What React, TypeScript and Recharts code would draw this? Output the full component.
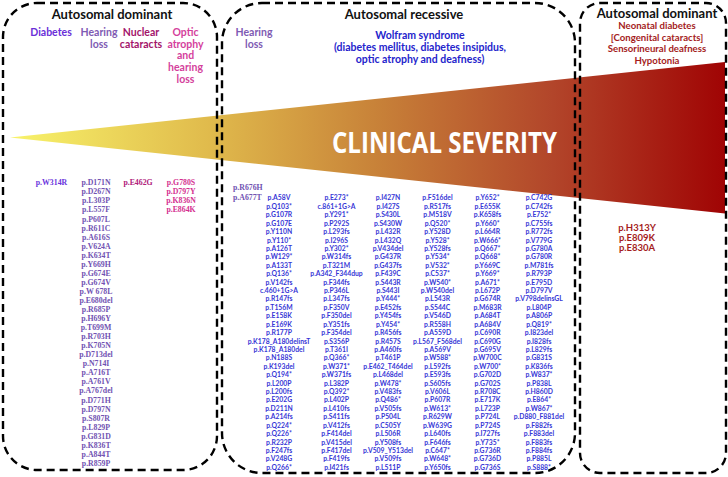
import React from 'react';
import { ComposedChart, XAxis, YAxis, Area, Scatter, ReferenceArea } from 'recharts';

const WIDTH = 728;
const HEIGHT = 477;

// ---------- texts / data ----------
const inheritanceHeaders = ['Autosomal dominant', 'Autosomal recessive', 'Autosomal dominant'];
const adPhenotypes = [['Diabetes'], ['Hearing', 'loss'], ['Nuclear', 'cataracts'], ['Optic', 'atrophy', 'and', 'hearing', 'loss']];
const arHearingPhenotype = ['Hearing', 'loss'];
const wolframLines = ['Wolfram syndrome', '(diabetes mellitus, diabetes insipidus,', 'optic atrophy and deafness)'];
const neonatalPhenotypes = ['Neonatal diabetes', '[Congenital cataracts]', 'Sensorineural deafness', 'Hypotonia'];
const severityLabel = 'CLINICAL SEVERITY';

const adDiabetesVariants = ['p.W314R'];
const adHearingVariants = [
  'p.D171N', 'p.D267N', 'p.L303P', 'p.L557F', 'p.P607L', 'p.R611C', 'p.A616S', 'p.V624A', 'p.K634T', 'p.Y669H',
  'p.G674E', 'p.G674V', 'p.W 678L', 'p.E680del', 'p.R685P', 'p.H696Y', 'p.T699M', 'p.R703H', 'p.K705N', 'p.D713del',
  'p.N714I', 'p.A716T', 'p.A761V', 'p.A767del', 'p.D771H', 'p.D797N', 'p.S807R', 'p.L829P', 'p.G831D', 'p.K836T',
  'p.A844T', 'p.R859P',
];
const adCataractVariants = ['p.E462G'];
const adOpticHearingVariants = ['p.G780S', 'p.D797Y', 'p.K836N', 'p.E864K'];
const arHearingVariants = ['p.R676H', 'p.A677T'];

const wolframCol1 = [
  'p.A58V', 'p.Q103*', 'p.G107R', 'p.G107E', 'p.Y110N', 'p.Y110*', 'p.A126T', 'p.W129*', 'p.A133T', 'p.Q136*',
  'p.V142fs', 'c.460+1G>A', 'p.R147fs', 'p.T156M', 'p.E158K', 'p.E169K', 'p.R177P', 'p.K178_A180delinsT',
  'p.K178_A180del', 'p.N188S', 'p.K193del', 'p.Q194*', 'p.L200P', 'p.L200fs', 'p.E202G', 'p.D211N', 'p.A214fs',
  'p.Q224*', 'p.Q226*', 'p.R232P', 'p.F247fs', 'p.V248G', 'p.Q266*',
];
const wolframCol2 = [
  'p.E273*', 'c.861+1G>A', 'p.Y291*', 'p.P292S', 'p.L293fs', 'p.I296S', 'p.Y302*', 'p.W314fs', 'p.T321M',
  'p.A342_F344dup', 'p.F344fs', 'p.P346L', 'p.L347fs', 'p.F350V', 'p.F350del', 'p.Y351fs', 'p.F354del', 'p.S356P',
  'p.T361I', 'p.Q366*', 'p.W371*', 'p.W371fs', 'p.L382P', 'p.Q392*', 'p.L402P', 'p.L410fs', 'p.S411fs', 'p.V412fs',
  'p.F414del', 'p.V415del', 'p.F417del', 'p.F419fs', 'p.I421fs',
];
const wolframCol3 = [
  'p.I427N', 'p.I427S', 'p.S430L', 'p.S430W', 'p.L432R', 'p.L432Q', 'p.V434del', 'p.G437R', 'p.G437fs', 'p.F439C',
  'p.S443R', 'p.S443I', 'p.Y444*', 'p.E452fs', 'p.Y454fs', 'p.Y454*', 'p.R456fs', 'p.R457S', 'p.A460fs', 'p.T461P',
  'p.E462_T464del', 'p.L468del', 'p.W478*', 'p.V483fs', 'p.Q486*', 'p.V505fs', 'p.P504L', 'p.C505Y', 'p.L506R',
  'p.Y508fs', 'p.V509_Y513del', 'p.V509fs', 'p.L511P',
];
const wolframCol4 = [
  'p.F516del', 'p.R517fs', 'p.M518V', 'p.Q520*', 'p.Y528D', 'p.Y528*', 'p.Y528fs', 'p.Y534*', 'p.V532*', 'p.C537*',
  'p.W540*', 'p.W540del', 'p.L543R', 'p.S544C', 'p.V546D', 'p.R558H', 'p.A559D', 'p.L567_F568del', 'p.A569V',
  'p.W588*', 'p.L592fs', 'p.E593fs', 'p.S605fs', 'p.V606L', 'p.P607R', 'p.W613*', 'p.R629W', 'p.W639G', 'p.L640fs',
  'p.F646fs', 'p.C647*', 'p.W648*', 'p.Y650fs',
];
const wolframCol5 = [
  'p.Y652*', 'p.E655K', 'p.K658fs', 'p.Y660*', 'p.L664R', 'p.W666*', 'p.Q667*', 'p.Q668*', 'p.Y669C', 'p.Y669*',
  'p.A671*', 'p.L672P', 'p.G674R', 'p.M683R', 'p.A684T', 'p.A684V', 'p.C690R', 'p.C690G', 'p.G695V', 'p.W700C',
  'p.W700*', 'p.G702D', 'p.G702S', 'p.R708C', 'p.E717K', 'p.L723P', 'p.P724L', 'p.P724S', 'p.I727fs', 'p.Y735*',
  'p.G736R', 'p.G736D', 'p.G736S',
];
const wolframCol6 = [
  'p.C742G', 'p.C742fs', 'p.E752*', 'p.C755fs', 'p.R772fs', 'p.V779G', 'p.G780A', 'p.G780R', 'p.M781fs', 'p.R793P',
  'p.E795D', 'p.D797V', 'p.V798delinsGL', 'p.L804P', 'p.A806P', 'p.Q819*', 'p.I823del', 'p.I828fs', 'p.L829fs',
  'p.G831S', 'p.K836fs', 'p.W837*', 'p.P838L', 'p.H860D', 'p.E864*', 'p.W867*', 'p.D880_F881del', 'p.F882fs',
  'p.F883del', 'p.F883fs', 'p.F884fs', 'p.P885L', 'p.S888*',
];
const neonatalVariants = ['p.H313Y', 'p.E809K', 'p.E830A'];

// severity rises from none (left) to full (right)
const severityLevels = [0, 1];

// ---------- layout ----------
type Pt = { x: number; y: number; label: string; len?: number };
const col = (labels: string[], x: number, y0: number, dy: number): Pt[] =>
  labels.map((label, i) => ({ x, y: y0 + i * dy, label }));

const WEDGE_X0 = 10;
const WEDGE_X1 = 725;
const WEDGE_MID = 137.5;
const wedgeData = severityLevels.map((lv) => ({
  x: WEDGE_X0 + lv * (WEDGE_X1 - WEDGE_X0),
  band: [WEDGE_MID - lv * 75.5, WEDGE_MID + lv * 76],
}));

const headerPts: Pt[] = [
  { x: 112, y: 18.5, label: inheritanceHeaders[0] },
  { x: 404, y: 18.5, label: inheritanceHeaders[1] },
  { x: 657, y: 17.5, label: inheritanceHeaders[2] },
];

const PH_Y = 36;
const PH_DY = 11.7;
const diabPheno = col(adPhenotypes[0], 51, PH_Y, PH_DY);
const hearPheno = [...col(adPhenotypes[1], 99, PH_Y, PH_DY), ...col(arHearingPhenotype, 254, PH_Y, PH_DY)];
const catPheno = col(adPhenotypes[2], 141, PH_Y, PH_DY);
const optPheno = col(adPhenotypes[3], 185.5, PH_Y, PH_DY);
const wolfPheno = col(wolframLines, 420, 38.5, 12.2);
const neoPheno = col(neonatalPhenotypes, 657, 29, 11.7);

const SV_Y = 185.3;
const SV_DY = 9.05;
const serifDiab = col(adDiabetesVariants, 51.5, SV_Y, SV_DY);
const serifHear = [...col(adHearingVariants, 96, SV_Y, SV_DY)];
const serifHearLeft = col(arHearingVariants, 233, 190, 10);
const serifCat = col(adCataractVariants, 138, SV_Y, SV_DY);
const serifOpt = col(adOpticHearingVariants, 181, SV_Y, SV_DY);

const WV_Y = 200.4;
const WV_DY = 8.42;
const wolfVariantPts: Pt[] = [
  ...col(wolframCol1, 279, WV_Y, WV_DY),
  ...col(wolframCol2, 336.5, WV_Y, WV_DY),
  ...col(wolframCol3, 388, WV_Y, WV_DY),
  ...col(wolframCol4, 437.5, WV_Y, WV_DY),
  ...col(wolframCol5, 487.5, WV_Y, WV_DY),
  ...col(wolframCol6, 539, WV_Y, WV_DY),
];
const neoVariantPts = col(neonatalVariants, 637, 230.5, 10.2);
const severityPts: Pt[] = [{ x: 332, y: 153, label: severityLabel, len: 225 }];

// ---------- styles ----------
type TS = { font: string; weight: number; size: number; color: string; anchor?: 'start' | 'middle' | 'end' };
const SANS = 'Lato, "Open Sans", sans-serif';
const SERIF = '"Liberation Serif", "DejaVu Serif", serif';

const textShape = (s: TS) => (props: any) => {
  const { cx, cy, payload } = props;
  return (
    <text
      x={cx}
      y={cy}
      textAnchor={s.anchor ?? 'middle'}
      fontFamily={s.font}
      fontWeight={s.weight}
      fontSize={s.size}
      fill={s.color}
      textLength={payload.len}
      lengthAdjust={payload.len ? 'spacingAndGlyphs' : undefined}
    >
      {payload.label}
    </text>
  );
};

const boxShape = (r: number) => (p: any) => (
  <rect
    x={p.x}
    y={p.y}
    width={p.width}
    height={p.height}
    rx={r}
    ry={r}
    fill="none"
    stroke="#000"
    strokeWidth={2.4}
    strokeDasharray="8 5"
  />
);

const groups: { key: string; data: Pt[]; style: TS }[] = [
  { key: 'sev', data: severityPts, style: { font: '"Open Sans", Lato, sans-serif', weight: 700, size: 28, color: '#ffffff', anchor: 'start' } },
  { key: 'hdr', data: headerPts, style: { font: SANS, weight: 700, size: 13, color: '#111111' } },
  { key: 'pdiab', data: diabPheno, style: { font: SANS, weight: 700, size: 10.5, color: '#6a2fd8' } },
  { key: 'phear', data: hearPheno, style: { font: SANS, weight: 700, size: 10.5, color: '#7f5bb3' } },
  { key: 'pcat', data: catPheno, style: { font: SANS, weight: 700, size: 10.5, color: '#a3146a' } },
  { key: 'popt', data: optPheno, style: { font: SANS, weight: 700, size: 10.5, color: '#d43f9c' } },
  { key: 'pwolf', data: wolfPheno, style: { font: SANS, weight: 700, size: 10.5, color: '#2424cc' } },
  { key: 'pneo', data: neoPheno, style: { font: SANS, weight: 700, size: 9.6, color: '#a41c1c' } },
  { key: 'vdiab', data: serifDiab, style: { font: SERIF, weight: 700, size: 7.8, color: '#6a35dc' } },
  { key: 'vhear', data: serifHear, style: { font: SERIF, weight: 700, size: 7.8, color: '#7152b2' } },
  { key: 'vhear2', data: serifHearLeft, style: { font: SERIF, weight: 700, size: 7.8, color: '#7152b2', anchor: 'start' } },
  { key: 'vcat', data: serifCat, style: { font: SERIF, weight: 700, size: 7.8, color: '#b0207a' } },
  { key: 'vopt', data: serifOpt, style: { font: SERIF, weight: 700, size: 7.8, color: '#d4308f' } },
  { key: 'vwolf', data: wolfVariantPts, style: { font: SANS, weight: 700, size: 6.8, color: '#3636d6' } },
  { key: 'vneo', data: neoVariantPts, style: { font: SANS, weight: 700, size: 9.5, color: '#a41c1c' } },
];

export default function App() {
  return (
    <div style={{ position: 'absolute', left: 0, top: 0, width: WIDTH, height: HEIGHT, background: '#fff' }}>
      <ComposedChart width={WIDTH} height={HEIGHT} data={wedgeData} margin={{ top: 0, right: 0, bottom: 0, left: 0 }}>
        <defs>
          <linearGradient id="sevGrad" x1="0" y1="0" x2="1" y2="0">
            <stop offset="0%" stopColor="#f8f36a" />
            <stop offset="28%" stopColor="#e0ba4c" />
            <stop offset="52%" stopColor="#c78038" />
            <stop offset="76%" stopColor="#b2452a" />
            <stop offset="100%" stopColor="#a00404" />
          </linearGradient>
        </defs>
        <XAxis type="number" dataKey="x" domain={[0, WIDTH]} hide allowDataOverflow />
        <YAxis type="number" dataKey="y" domain={[0, HEIGHT]} reversed hide allowDataOverflow />
        <Area
          type="linear"
          dataKey="band"
          stroke="none"
          fill="url(#sevGrad)"
          fillOpacity={1}
          isAnimationActive={false}
          dot={false}
          activeDot={false}
        />
        <ReferenceArea x1={3} x2={217} y1={3} y2={470} ifOverflow="visible" shape={boxShape(34)} zIndex={650} />
        <ReferenceArea x1={222} x2={575} y1={3} y2={473} ifOverflow="visible" shape={boxShape(40)} zIndex={650} />
        <ReferenceArea x1={580} x2={726} y1={3} y2={473} ifOverflow="visible" shape={boxShape(20)} zIndex={650} />
        {groups.map((g) => (
          <Scatter key={g.key} data={g.data} isAnimationActive={false} shape={textShape(g.style)} />
        ))}
      </ComposedChart>
    </div>
  );
}
